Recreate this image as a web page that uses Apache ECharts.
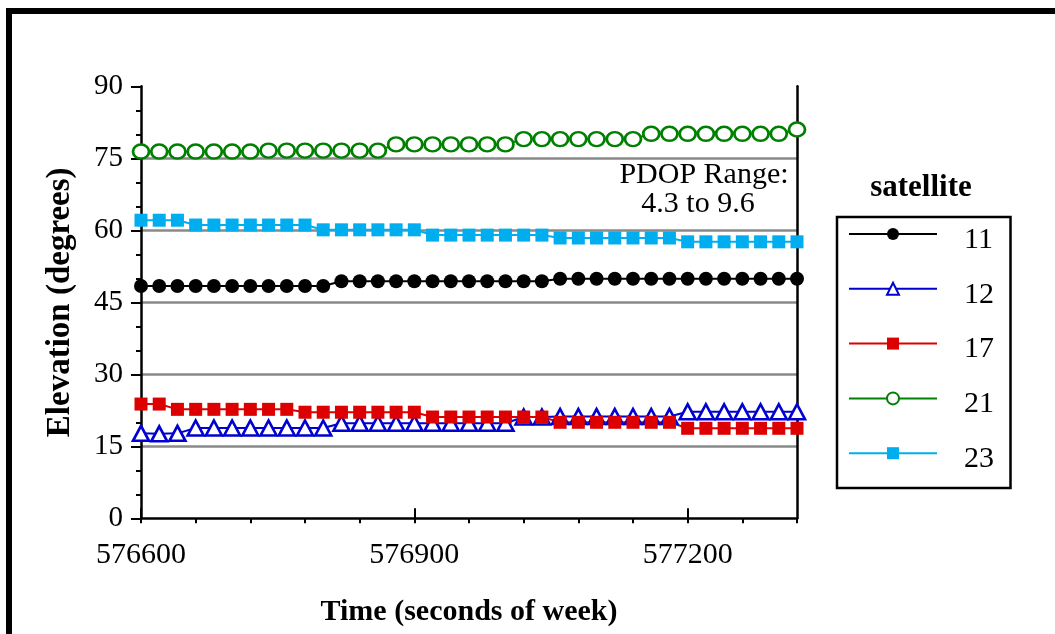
<!DOCTYPE html>
<html>
<head>
<meta charset="utf-8">
<title>Satellite elevation</title>
<script src="https://cdn.jsdelivr.net/npm/echarts@6/dist/echarts.min.js"></script>
<style>
  html, body { margin: 0; padding: 0; background: #fff; }
  #chart { width: 1055px; height: 634px; }
</style>
</head>
<body>
<div id="chart"></div>
<script>
// Time of each sample (seconds of GPS week)
const times = [
  576600, 576620, 576640, 576660, 576680, 576700, 576720, 576740, 576760, 576780,
  576800, 576820, 576840, 576860, 576880, 576900, 576920, 576940, 576960, 576980,
  577000, 577020, 577040, 577060, 577080, 577100, 577120, 577140, 577160, 577180,
  577200, 577220, 577240, 577260, 577280, 577300, 577320
];

// Elevation (degrees) per satellite
const sat11 = [
  48.4, 48.4, 48.4, 48.4, 48.4, 48.4, 48.4, 48.4, 48.4, 48.4,
  48.4, 49.4, 49.4, 49.4, 49.4, 49.4, 49.4, 49.4, 49.4, 49.4,
  49.4, 49.4, 49.4, 49.9, 49.9, 49.9, 49.9, 49.9, 49.9, 49.9,
  49.9, 49.9, 49.9, 49.9, 49.9, 49.9, 49.9
];
const sat12 = [
  17.7, 17.6, 17.7, 18.8, 18.8, 18.8, 18.8, 18.8, 18.8, 18.8,
  18.8, 19.8, 19.8, 19.8, 19.8, 19.8, 19.8, 19.8, 19.8, 19.8,
  19.8, 21.1, 21.1, 21.2, 21.2, 21.2, 21.2, 21.2, 21.2, 21.2,
  22.2, 22.2, 22.2, 22.2, 22.2, 22.2, 22.2
];
const sat17 = [
  23.8, 23.8, 22.7, 22.7, 22.7, 22.7, 22.7, 22.7, 22.7, 22.1,
  22.1, 22.1, 22.1, 22.1, 22.1, 22.1, 21.1, 21.1, 21.1, 21.1,
  21.1, 21.1, 21.1, 20.0, 20.0, 20.0, 20.0, 20.0, 20.0, 20.0,
  18.75, 18.75, 18.75, 18.75, 18.75, 18.75, 18.75
];
const sat21 = [
  76.4, 76.4, 76.4, 76.4, 76.4, 76.4, 76.4, 76.6, 76.6, 76.6,
  76.6, 76.6, 76.6, 76.6, 77.9, 77.9, 77.9, 77.9, 77.9, 77.9,
  77.9, 79.0, 79.0, 79.0, 79.0, 79.0, 79.0, 79.0, 80.1, 80.1,
  80.1, 80.1, 80.1, 80.1, 80.1, 80.1, 81.0
];
const sat23 = [
  62.1, 62.1, 62.1, 61.1, 61.1, 61.1, 61.1, 61.1, 61.1, 61.1,
  60.1, 60.1, 60.1, 60.1, 60.1, 60.1, 59.0, 59.0, 59.0, 59.0,
  59.0, 59.0, 59.0, 58.4, 58.4, 58.4, 58.4, 58.4, 58.4, 58.4,
  57.6, 57.6, 57.6, 57.6, 57.6, 57.6, 57.6
];

const xLabelTicks = [576600, 576900, 577200];
const pdopNote = ['PDOP Range:', '4.3 to 9.6'];

const SERIF = '"Liberation Serif", "Times New Roman", serif';

function pairs(values) {
  return times.map((t, i) => [t, values[i]]);
}

function makeSeries(name, values, color, symbol, size, hollow) {
  return {
    name: name,
    type: 'line',
    data: pairs(values),
    symbol: symbol,
    symbolSize: size,
    showAllSymbol: true,
    clip: false,
    animation: false,
    lineStyle: { color: color, width: 2 },
    itemStyle: hollow
      ? { color: '#ffffff', borderColor: color, borderWidth: 2.6 }
      : { color: color, borderWidth: 0 },
    emphasis: { disabled: true }
  };
}

const chart = echarts.init(document.getElementById('chart'), null, { renderer: 'canvas' });

chart.setOption({
  backgroundColor: '#ffffff',
  animation: false,
  textStyle: { fontFamily: SERIF },
  grid: { left: 141, top: 86.3, right: 258, bottom: 115.7 },
  xAxis: [
    {
      type: 'value',
      min: 576600,
      max: 577320,
      interval: 60,
      name: 'Time (seconds of week)',
      nameLocation: 'middle',
      nameGap: 79,
      nameTextStyle: { fontFamily: SERIF, fontSize: 30, fontWeight: 'bold', color: '#000' },
      axisLine: { onZero: false, lineStyle: { color: '#000', width: 2.5 } },
      axisTick: { show: true, inside: false, length: 5, lineStyle: { color: '#000', width: 2 } },
      axisLabel: {
        customValues: xLabelTicks,
        margin: 22,
        fontFamily: SERIF, fontSize: 30, color: '#000',
        formatter: v => String(v)
      },
      splitLine: { show: false }
    },
    {
      type: 'value',
      min: 576600,
      max: 577320,
      interval: 300,
      axisLine: { show: false },
      axisTick: { show: true, customValues: xLabelTicks, length: 10, lineStyle: { color: '#000', width: 2 } },
      axisLabel: { show: false },
      splitLine: { show: false }
    }
  ],
  yAxis: [
    {
      type: 'value',
      min: 0,
      max: 90,
      interval: 15,
      name: 'Elevation (degrees)',
      nameLocation: 'middle',
      nameGap: 64,
      nameTextStyle: { fontFamily: SERIF, fontSize: 33, fontWeight: 'bold', color: '#000' },
      axisLine: { show: true, onZero: false, lineStyle: { color: '#000', width: 2.5 } },
      axisTick: { show: true, inside: false, length: 10, lineStyle: { color: '#000', width: 2 } },
      minorTick: { show: true, splitNumber: 3, length: 5, lineStyle: { color: '#000', width: 2 } },
      axisLabel: { margin: 18, fontFamily: SERIF, fontSize: 29, color: '#000' },
      splitLine: {
        show: true,
        showMinLine: false,
        showMaxLine: false,
        lineStyle: { color: '#8a8a8a', width: 2.5 }
      }
    },
    {
      type: 'value',
      position: 'right',
      min: 0,
      max: 90,
      interval: 15,
      axisLine: { show: true, onZero: false, lineStyle: { color: '#000', width: 2.5 } },
      axisTick: { show: false },
      axisLabel: { show: false },
      splitLine: { show: false }
    }
  ],
  legend: {
    orient: 'vertical',
    left: 848,
    top: 225,
    padding: 0,
    itemWidth: 88,
    itemHeight: 15,
    itemGap: 24.8,
    selectedMode: false,
    formatter: name => '{v|' + name + '}',
    textStyle: {
      fontFamily: SERIF, fontSize: 30, color: '#000',
      padding: [12, 0, 0, 22],
      rich: {
        v: { fontFamily: SERIF, fontSize: 30, lineHeight: 30, color: '#000' }
      }
    },
    data: ['11', '12', '17', '21', '23']
  },
  graphic: [
    {
      type: 'rect',
      silent: true,
      shape: { x: 9, y: 11, width: 1200, height: 800 },
      style: { fill: 'none', stroke: '#000', lineWidth: 6 }
    },
    {
      type: 'rect',
      silent: true,
      shape: { x: 837, y: 217, width: 173.5, height: 271 },
      style: { fill: 'none', stroke: '#000', lineWidth: 2.5 }
    },
    {
      type: 'text',
      silent: true,
      x: 921, y: 188,
      style: {
        text: 'satellite', fill: '#000',
        font: 'bold 31px ' + SERIF,
        align: 'center', verticalAlign: 'middle'
      }
    },
    {
      type: 'text',
      silent: true,
      x: 704, y: 175,
      style: {
        text: pdopNote[0], fill: '#000',
        font: '30px ' + SERIF,
        align: 'center', verticalAlign: 'middle'
      }
    },
    {
      type: 'text',
      silent: true,
      x: 698, y: 204,
      style: {
        text: pdopNote[1], fill: '#000',
        font: '30px ' + SERIF,
        align: 'center', verticalAlign: 'middle'
      }
    }
  ],
  series: [
    makeSeries('11', sat11, '#000000', 'circle', 14, false),
    makeSeries('12', sat12, '#0000d0', 'triangle', [16, 15], true),
    makeSeries('17', sat17, '#dd0000', 'rect', 13, false),
    makeSeries('21', sat21, '#008000', 'circle', [16, 14], true),
    makeSeries('23', sat23, '#00aeef', 'rect', 13, false)
  ]
});
</script>
</body>
</html>
